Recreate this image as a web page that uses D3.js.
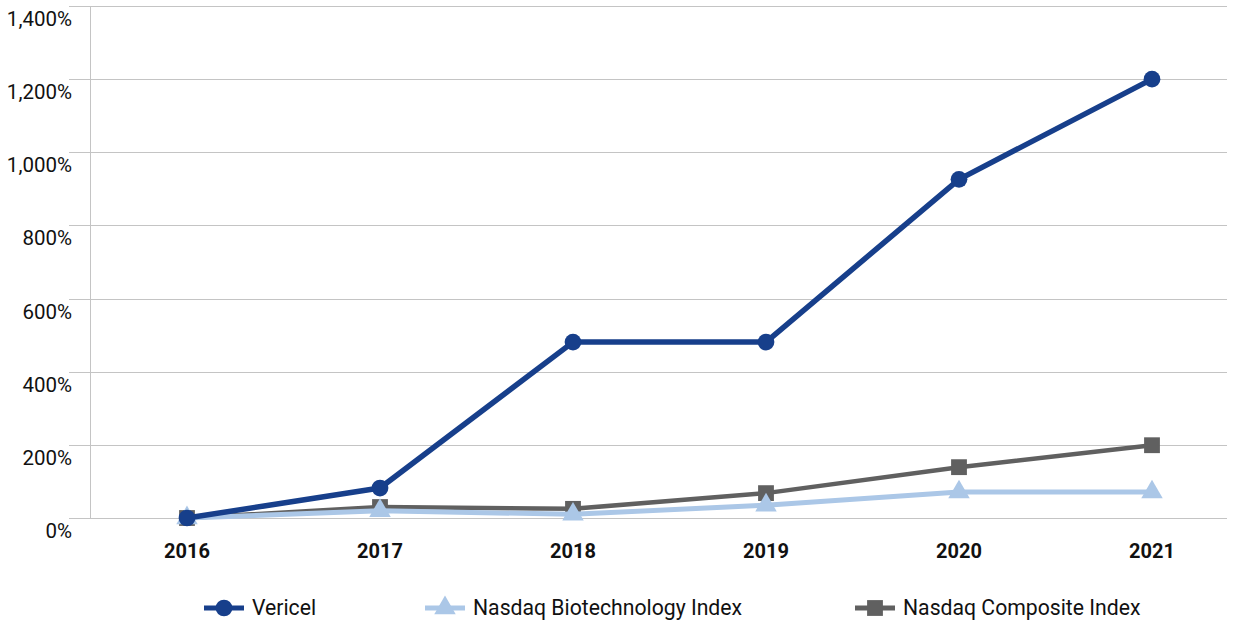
<!doctype html>
<meta charset=utf8>
<title>Vericel vs Nasdaq</title>
<style>
  html, body { margin: 0; background: white; }
  svg { display: block; font-family: Roboto, sans-serif; }
</style>
<svg width="1252" height="627"></svg>
<script src="https://d3js.org/d3.v7.min.js"></script>
<script>
  var years = ['2016', '2017', '2018', '2019', '2020', '2021'];
  var vericel = [0, 82, 481, 481, 926, 1200];
  var biotech = [0, 20, 10, 35, 71, 71];
  var composite = [0, 30, 25, 68, 139, 199];
  var yTicks = [0, 200, 400, 600, 800, 1000, 1200, 1400];

  var series = [
    { name: 'Nasdaq Composite Index', values: composite, color: '#606060', width: 4.5, symbol: d3.symbolSquare, size: 250, lx: 855 },
    { name: 'Nasdaq Biotechnology Index', values: biotech, color: '#abc7e7', width: 5, symbol: d3.symbolTriangle, size: 200, lx: 425 },
    { name: 'Vericel', values: vericel, color: '#173f8b', width: 5.5, symbol: d3.symbolCircle, size: 220, lx: 204 }
  ];

  var svg = d3.select('svg');
  var plotLeft = 90, plotRight = 1227, plotTop = 6, plotBottom = 518;

  var x = d3.scalePoint().domain(years).range([187, 1152]);
  var y = d3.scaleLinear().domain([0, 1400]).range([plotBottom, plotTop]);

  // gridlines, running a little past the axis on the left
  svg.append('g')
    .selectAll('line')
    .data(yTicks)
    .enter()
    .append('line')
    .attr('x1', 69)
    .attr('x2', plotRight)
    .attr('y1', function (d) { return Math.round(y(d)) + 0.5; })
    .attr('y2', function (d) { return Math.round(y(d)) + 0.5; })
    .attr('stroke', '#c4c4c4')
    .attr('stroke-width', 1);

  svg.append('line')
    .attr('x1', plotLeft + 0.5).attr('x2', plotLeft + 0.5)
    .attr('y1', plotTop).attr('y2', plotBottom)
    .attr('stroke', '#c4c4c4');

  var fmt = d3.format(',');
  svg.append('g')
    .selectAll('text')
    .data(yTicks)
    .enter()
    .append('text')
    .attr('x', 72)
    .attr('y', function (d) { return y(d) + 20; })
    .attr('text-anchor', 'end')
    .attr('font-size', 20.5)
    .attr('fill', '#111')
    .text(function (d) { return fmt(d) + '%'; });

  svg.append('g')
    .selectAll('text')
    .data(years)
    .enter()
    .append('text')
    .attr('x', function (d) { return x(d); })
    .attr('y', 558)
    .attr('text-anchor', 'middle')
    .attr('font-size', 20)
    .attr('font-weight', 'bold')
    .attr('fill', '#111')
    .text(function (d) { return d; });

  var line = d3.line()
    .x(function (d, i) { return x(years[i]); })
    .y(function (d) { return y(d); });

  series.forEach(function (s) {
    var g = svg.append('g');
    g.append('path')
      .attr('d', line(s.values))
      .attr('fill', 'none')
      .attr('stroke', s.color)
      .attr('stroke-width', s.width)
      .attr('stroke-linejoin', 'round');
    g.selectAll('path.m')
      .data(s.values)
      .enter()
      .append('path')
      .attr('class', 'm')
      .attr('d', d3.symbol().type(s.symbol).size(s.size))
      .attr('transform', function (d, i) { return 'translate(' + x(years[i]) + ',' + y(d) + ')'; })
      .attr('fill', s.color);
  });

  // legend
  var legend = svg.append('g');
  series.forEach(function (s) {
    var ly = 608;
    legend.append('line')
      .attr('x1', s.lx).attr('x2', s.lx + 40)
      .attr('y1', ly).attr('y2', ly)
      .attr('stroke', s.color)
      .attr('stroke-width', 5);
    legend.append('path')
      .attr('d', d3.symbol().type(s.symbol).size(s.size)())
      .attr('transform', 'translate(' + (s.lx + 20) + ',' + ly + ')')
      .attr('fill', s.color);
    legend.append('text')
      .attr('x', s.lx + 48)
      .attr('y', ly + 7)
      .attr('font-size', 21.2)
      .attr('fill', '#111')
      .text(s.name);
  });
</script>
